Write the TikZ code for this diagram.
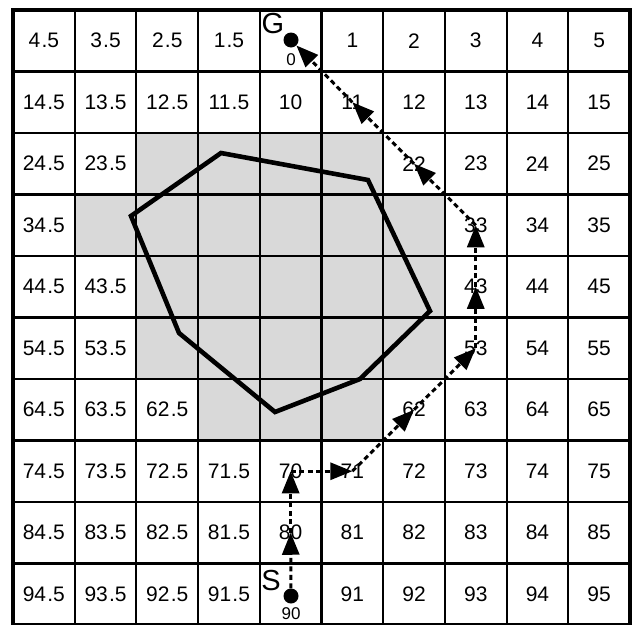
\documentclass[tikz,border=0pt]{standalone}
\usepackage{fontspec}
\setmainfont{Liberation Sans}
\usetikzlibrary{arrows.meta}
\definecolor{cellgray}{RGB}{217,217,217}
\begin{document}
\begin{tikzpicture}[x=1pt,y=-1pt,
  gridline/.style={line width=2.1pt},
  border/.style={line width=3.2pt},
  obstacle/.style={line width=4.6pt,line join=miter},
  celltext/.style={inner sep=0pt,font=\fontsize{21}{21}\selectfont},
  bigtext/.style={inner sep=0pt,font=\fontsize{29}{29}\selectfont},
  smalltext/.style={inner sep=0pt,font=\fontsize{17}{17}\selectfont},
  dot/.style={circle,fill=black,inner sep=0pt,minimum size=15pt},
  tip/.tip={Triangle[length=22pt,width=17pt]},
  pathline/.style={line width=3pt,dash pattern=on 5pt off 3.5pt,-tip}
]
\useasboundingbox (0,0) rectangle (634,624);
% gray cells
\foreach \r/\a/\b in {2/2/5,3/1/6,4/2/6,5/2/6,6/3/5}
  \fill[cellgray] ({13+\a*61.7},{10+\r*61.5}) rectangle ({13+(\b+1)*61.7},{10+(\r+1)*61.5});
% grid
\foreach \i in {1,...,9} {
  \draw[gridline] ({13+\i*61.7},10) -- ({13+\i*61.7},625);
  \draw[gridline] (13,{10+\i*61.5}) -- (630,{10+\i*61.5});
}
\draw[border] (13,10) rectangle (630,625);
% obstacle
\draw[obstacle] (221,153) -- (368,180) -- (430,311) -- (360,379) -- (275,412) -- (179,333) -- (131,216) -- cycle;
% labels
\newcommand{\cellrow}[2]{%
  \foreach \c/\t in {#2}
    \node[celltext] (n#1-\c) at ({13+(\c+0.5)*61.7},{10+(#1+0.5)*61.5}) {\t};}
\newcommand{\hf}[1]{#1\kern1.2pt.5}
\cellrow{0}{0/\hf{4},1/\hf{3},2/\hf{2},3/\hf{1},5/1,6/2,7/3,8/4,9/5}
\cellrow{1}{0/\hf{14},1/\hf{13},2/\hf{12},3/\hf{11},4/10,5/11,6/12,7/13,8/14,9/15}
\cellrow{2}{0/\hf{24},1/\hf{23},6/22,7/23,8/24,9/25}
\cellrow{3}{0/\hf{34},7/33,8/34,9/35}
\cellrow{4}{0/\hf{44},1/\hf{43},7/43,8/44,9/45}
\cellrow{5}{0/\hf{54},1/\hf{53},7/53,8/54,9/55}
\cellrow{6}{0/\hf{64},1/\hf{63},2/\hf{62},6/62,7/63,8/64,9/65}
\cellrow{7}{0/\hf{74},1/\hf{73},2/\hf{72},3/\hf{71},4/70,5/71,6/72,7/73,8/74,9/75}
\cellrow{8}{0/\hf{84},1/\hf{83},2/\hf{82},3/\hf{81},4/80,5/81,6/82,7/83,8/84,9/85}
\cellrow{9}{0/\hf{94},1/\hf{93},2/\hf{92},3/\hf{91},5/91,6/92,7/93,8/94,9/95}
% start and goal
\node[dot] (G) at (291,40) {};
\node[bigtext] (Glabel) at (273,24) {G};
\node[smalltext] (Gnum) at (291,60) {0};
\node[dot] (S) at (291,596) {};
\node[bigtext] (Slabel) at (271,581) {S};
\node[smalltext] (Snum) at (291,614) {90};
% path
\draw[pathline] (S) -- (n8-4.center);
\draw[pathline] (n8-4.center) -- (n7-4.center);
\draw[pathline] (n7-4.center) -- (n7-5.center);
\draw[pathline] (n7-5.center) -- (n6-6.center);
\draw[pathline] (n6-6.center) -- (n5-7.center);
\draw[pathline] (n5-7.center) -- (n4-7.center);
\draw[pathline] (n4-7.center) -- (n3-7.center);
\draw[pathline] (n3-7.center) -- (n2-6.center);
\draw[pathline] (n2-6.center) -- (n1-5.center);
\draw[pathline] (n1-5.center) -- (G);
\end{tikzpicture}
\end{document}
